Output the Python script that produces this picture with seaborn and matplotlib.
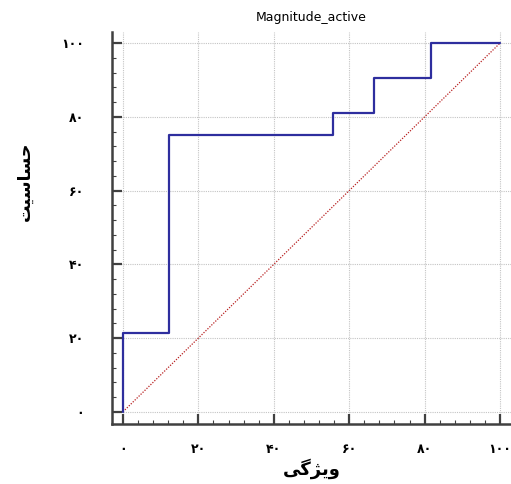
import numpy as np
import pandas as pd
import seaborn as sns
import matplotlib.pyplot as plt
from matplotlib.ticker import FixedLocator

sns.set_style("white")
plt.rcParams["font.family"] = ["DejaVu Sans"]
plt.rcParams["text.color"] = "black"
plt.rcParams["axes.labelcolor"] = "black"
plt.rcParams["xtick.color"] = "black"
plt.rcParams["ytick.color"] = "black"

# ROC points (100 - specificity, sensitivity), in percent
fpr = [0, 0, 12.2, 55.6, 66.7, 81.8, 100]
tpr = [0, 21.5, 75, 81, 90.5, 100, 100]
diag = [0, 100]

ticks = [0, 20, 40, 60, 80, 100]
minor_ticks = [t for t in range(0, 101, 4) if t % 20]
tick_labels = ["\u06f0", "\u06f2\u06f0", "\u06f4\u06f0", "\u06f6\u06f0", "\u06f8\u06f0", "\u06f1\u06f0\u06f0"]

title = "Magnitude_active"
# presentation forms, visual order (matplotlib does no Arabic shaping)
xlabel = "\ufbfd\ufb94\ufb8b\ufbfe\ufeed"          # ویژگی
ylabel = "\ufe96\ufbff\ufeb3\ufe8e\ufeb4\ufea3"    # حساسیت

roc = pd.DataFrame({"fpr": fpr, "tpr": tpr})

fig = plt.figure(figsize=(5.11, 4.84), dpi=100)
ax = fig.add_axes([112 / 511, 1 - 424 / 484, (511 - 112) / 511, (424 - 32) / 484])

sns.lineplot(x=diag, y=diag, ax=ax, color="#b82020", lw=0.9,
             linestyle=(0, (1, 1.2)), zorder=2)
sns.lineplot(data=roc, x="fpr", y="tpr", ax=ax, estimator=None, sort=False,
             drawstyle="steps-post", color="#2e2e9e", lw=1.6, zorder=3)

ax.set_xlim(-2.9, 102.9)
ax.set_ylim(-3.3, 103)

ax.xaxis.set_major_locator(FixedLocator(ticks))
ax.yaxis.set_major_locator(FixedLocator(ticks))
ax.xaxis.set_minor_locator(FixedLocator(minor_ticks))
ax.yaxis.set_minor_locator(FixedLocator(minor_ticks))
ax.set_xticklabels(tick_labels, fontsize=9, fontweight="bold")
ax.set_yticklabels(tick_labels, fontsize=9, fontweight="bold")

ax.tick_params(which="both", bottom=True, left=True, direction="in", color="#404040")
ax.tick_params(which="major", length=7, width=1.6)
ax.tick_params(which="minor", length=3, width=0.8)
ax.tick_params(axis="x", which="major", pad=14)
ax.tick_params(axis="y", which="major", pad=20)

ax.grid(True, which="major", color="#c4c4c4", linestyle=(0, (1, 1)), lw=0.8)

sns.despine(ax=ax)
for s in ["left", "bottom"]:
    ax.spines[s].set_linewidth(1.8)
    ax.spines[s].set_color("#404040")

ax.set_title(title, fontsize=9, x=(311 - 112) / 399, y=1.0, pad=8)
ax.set_xlabel(xlabel, fontsize=13, fontweight="bold")
ax.set_ylabel(ylabel, fontsize=12.5, fontweight="bold")
ax.xaxis.set_label_coords((312 - 112) / 399, -(458 - 424) / 392)
ax.yaxis.set_label_coords((34 - 112) / 399, (424 - 181) / 392)

fig.savefig("out.png", dpi=100)
